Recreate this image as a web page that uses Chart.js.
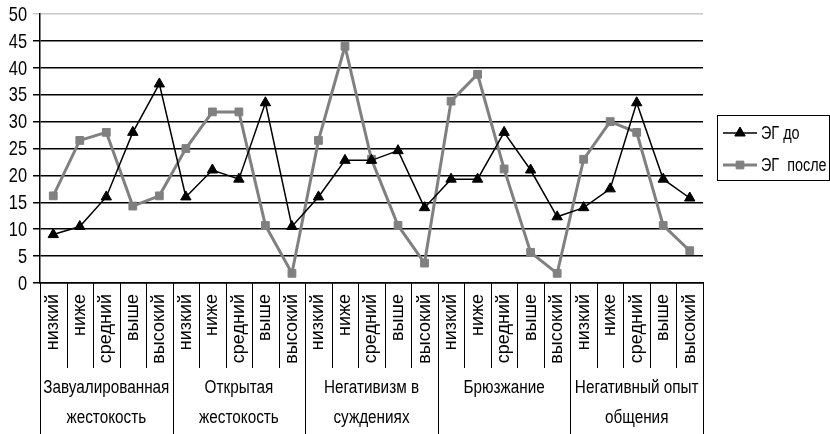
<!DOCTYPE html>
<html lang="ru">
<head>
<meta charset="UTF-8">
<title>ЭГ до / после</title>
<script src="https://cdn.jsdelivr.net/npm/chart.js"></script>
<style>
  html, body { margin: 0; padding: 0; background: #fff; }
  #wrap { width: 830px; height: 434px; }
</style>
</head>
<body>
<div id="wrap"><canvas id="chart" width="830" height="434"></canvas></div>
<script>
// уровни внутри каждой шкалы
const levels = ['низкий', 'ниже', 'средний', 'выше', 'высокий'];
// названия шкал (по строкам)
const groups = [
    ['Завуалированная', 'жестокость'],
    ['Открытая', 'жестокость'],
    ['Негативизм в', 'суждениях'],
    ['Брюзжание'],
    ['Негативный опыт', 'общения']
];

// значения
const egBefore = [9, 10.5, 16, 28, 37, 16, 21, 19.3, 33.5, 10.5, 16, 22.8, 22.8, 24.6, 14, 19.3, 19.3, 28, 21, 12.3, 14, 17.5, 33.5, 19.3, 15.8];
const egAfter = [16.2, 26.5, 28, 14.3, 16.2, 25, 31.8, 31.8, 10.7, 1.8, 26.5, 44, 23, 10.7, 3.7, 33.8, 38.8, 21.2, 5.7, 1.8, 23, 30, 28, 10.7, 6];

const labels = groups.flatMap(() => levels);

// узкий шрифт: сжимаем по горизонтали
function narrowText(ctx, text, x, y, sx) {
    ctx.save();
    ctx.translate(x, y);
    ctx.scale(sx, 1);
    ctx.fillText(text, 0, 0);
    ctx.restore();
}

// подписи оси Y, разделители под осью X, подписи шкал и легенда
const extras = {
    id: 'extras',
    afterDraw(chart) {
        const ctx = chart.ctx;
        const x = chart.scales.x;
        const y = chart.scales.y;
        const area = chart.chartArea;
        const step = x.getPixelForValue(1) - x.getPixelForValue(0);
        ctx.save();
        ctx.fillStyle = '#000';

        ctx.font = '21px "Liberation Sans", Arial';
        ctx.textAlign = 'right';
        ctx.textBaseline = 'middle';
        y.ticks.forEach(t => narrowText(ctx, String(t.value), 27, y.getPixelForValue(t.value) + 1, 0.78));

        ctx.strokeStyle = '#000';
        ctx.lineWidth = 1;
        for (let i = 0; i <= labels.length; i++) {
            const px = Math.round(x.getPixelForValue(i) - step / 2) + 0.5;
            const isGroup = i % levels.length === 0;
            ctx.beginPath();
            ctx.moveTo(px, area.bottom);
            ctx.lineTo(px, isGroup ? chart.height : area.bottom + 85);
            ctx.stroke();
        }
        ctx.font = '18px "Liberation Sans", Arial';
        ctx.textAlign = 'center';
        groups.forEach((g, gi) => {
            const first = gi * levels.length;
            const cx = (x.getPixelForValue(first) + x.getPixelForValue(first + levels.length - 1)) / 2;
            g.forEach((line, li) => narrowText(ctx, line, cx, area.bottom + 105 + li * 30, 0.85));
        });

        // легенда
        ctx.lineWidth = 1;
        ctx.strokeRect(717.5, 115.5, 112, 65);
        ctx.font = '18px "Liberation Sans", Arial';
        ctx.textAlign = 'left';
        chart.data.datasets.forEach((ds, i) => {
            const ly = 133 + i * 32;
            ctx.strokeStyle = ds.borderColor;
            ctx.lineWidth = ds.borderWidth;
            ctx.beginPath();
            ctx.moveTo(723, ly);
            ctx.lineTo(757, ly);
            ctx.stroke();
            ctx.fillStyle = ds.backgroundColor;
            ctx.lineWidth = 1;
            Chart.helpers.drawPoint(ctx, {
                pointStyle: ds.pointStyle, radius: ds.pointRadius,
                rotation: 0, borderWidth: 1
            }, 740, ly);
            ctx.fillStyle = '#000';
            narrowText(ctx, ds.label, 761, ly + 1, 0.8);
        });
        ctx.restore();
    }
};

new Chart(document.getElementById('chart'), {
    type: 'line',
    data: {
        labels: labels,
        datasets: [{
            label: 'ЭГ до',
            data: egBefore,
            borderColor: '#000',
            backgroundColor: '#000',
            borderWidth: 1.5,
            pointStyle: 'triangle',
            pointRadius: 6,
            pointBorderWidth: 1,
            tension: 0
        }, {
            label: 'ЭГ  после',
            data: egAfter,
            borderColor: '#808080',
            backgroundColor: '#808080',
            borderWidth: 3,
            pointStyle: 'rect',
            pointRadius: 5.5,
            pointBorderWidth: 1,
            tension: 0
        }]
    },
    options: {
        responsive: false,
        animation: false,
        layout: { padding: { top: 14, right: 127, bottom: 0, left: 0 } },
        plugins: {
            legend: { display: false },
            tooltip: { enabled: false }
        },
        scales: {
            x: {
                offset: true,
                grid: { display: true, drawOnChartArea: false, drawTicks: false },
                border: { color: '#000', width: 1.5 },
                ticks: {
                    autoSkip: false,
                    maxRotation: 90,
                    minRotation: 90,
                    padding: 11,
                    color: '#000',
                    font: { family: '"Liberation Sans", Arial', size: 18 }
                },
                afterFit(scale) { scale.height = 151; }
            },
            y: {
                min: 0,
                max: 50,
                grid: {
                    color: c => c.tick && c.tick.value === 50 ? '#c8c8c8' : '#000',
                    lineWidth: 1.5,
                    tickLength: 7
                },
                border: { color: '#000', width: 1.5 },
                ticks: { stepSize: 5, autoSkip: false, display: false },
                afterFit(scale) { scale.width = 40; }
            }
        }
    },
    plugins: [extras]
});
</script>
</body>
</html>
